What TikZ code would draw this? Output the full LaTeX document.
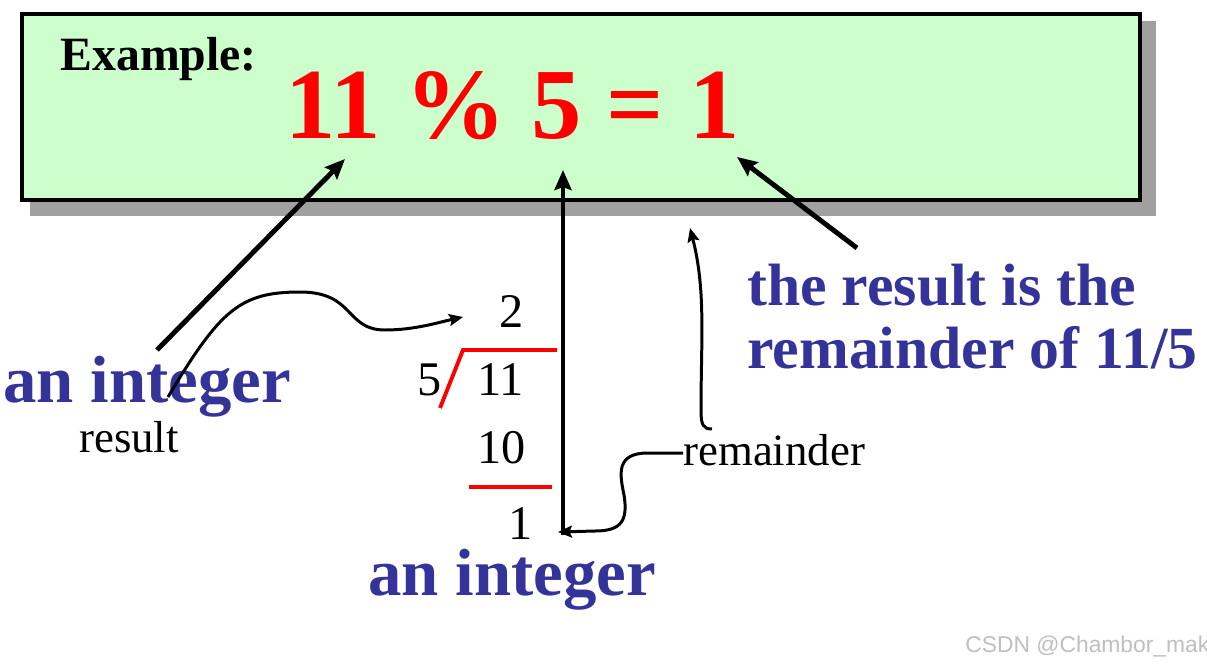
\documentclass[tikz,border=0pt]{standalone}
\usepackage{fontspec}
\setmainfont{Liberation Serif}
\newfontfamily\markfont{Liberation Sans}
\usetikzlibrary{arrows.meta}
\definecolor{exgreen}{HTML}{CCFFCC}
\definecolor{exblue}{HTML}{333399}
\definecolor{exred}{HTML}{FF0000}
\definecolor{exshade}{HTML}{A0A0A0}
\tikzset{
  exbox/.style={draw=black, fill=exgreen, line width=2pt, inner sep=0pt,
    minimum width=22.37cm, minimum height=3.73cm},
  headtxt/.style={anchor=base west, inner sep=0pt, font=\fontsize{27.2}{30}\selectfont\bfseries},
  eqtxt/.style={anchor=base west, inner sep=0pt, text=exred, font=\fontsize{57.3}{60}\selectfont\bfseries},
  bigblue/.style={anchor=base west, inner sep=0pt, text=exblue, font=\fontsize{38}{40}\selectfont\bfseries},
  noteblue/.style={anchor=base west, inner sep=0pt, text=exblue, align=left,
    font=\fontsize{34}{35.7}\selectfont\bfseries},
  plain/.style={anchor=base west, inner sep=0pt, font=\fontsize{25.5}{28}\selectfont},
  digit/.style={anchor=base west, inner sep=0pt, font=\fontsize{27.5}{30}\selectfont},
  pointer/.style={-{Stealth[length=4mm, width=3.4mm, inset=0.6mm]}, line width=2.8pt},
  curvy/.style={-{Stealth[length=2.8mm, width=2.4mm, inset=0.5mm]}, line width=1.7pt},
  divline/.style={draw=exred, line width=2.2pt},
}

\begin{document}
\begin{tikzpicture}[x=0.02cm, y=-0.02cm]
\useasboundingbox (0,0) rectangle (1207,663);
% green example box with its shadow
\fill[exshade] (30,21) rectangle (1156,216);
\node[exbox] (frame) at (581,107) {};
\node[headtxt] (head) at (60,70) {Example:};
\node[eqtxt] (eqn) at (285,138) {11 \% 5 = 1};

% labels
\node[bigblue] (intl) at (3,402) {an integer};
\node[bigblue] (intb) at (368,595) {an integer};
\node[noteblue] (note) at (747,368) {the result is the\\remainder of 11/5};
\node[plain] (res) at (79,452) {result};
\node[plain] (rem) at (683,465) {remainder};

% long division
\node[digit] (quo) at (499,327) {2};
\node[digit] (dvsr) at (417,395) {5};
\node[digit] (dvnd) at (477,395) {11};
\node[digit] (prod) at (477,463) {10};
\node[digit] (rmd) at (508,539) {1};
\draw[divline] (440,408) -- (463,350) -- (557,350);
\draw[divline] (469,487) -- (552,487);

% arrow ends
\coordinate (intFrom) at (157,350);
\coordinate (tipEleven) at (345,159);
\coordinate (vertFrom) at (563,535);
\coordinate (tipFive) at (563,170);
\coordinate (noteFrom) at (857,248);
\coordinate (tipOne) at (737,157);
\coordinate (resFrom) at (168,397);
\coordinate (quoTip) at (463,317);
\coordinate (remFrom) at (683,453);
\coordinate (rmdTip) at (558,532);
\coordinate (remUp) at (712,429);
\coordinate (frameTip) at (690,228);

\foreach \a/\b in {intFrom/tipEleven,vertFrom/tipFive,noteFrom/tipOne} \draw[pointer] (\a) -- (\b);
\draw[curvy] (resFrom) .. controls (220,310) and (240,292) .. (300,292)
  .. controls (355,292) and (345,330) .. (385,330)
  .. controls (415,330) and (440,322) .. (quoTip);
\draw[curvy] (remFrom) -- (648,453) .. controls (615,453) and (620,475) .. (624,495)
  .. controls (628,520) and (622,531) .. (595,531) -- (rmdTip);
\draw[curvy] (remUp) .. controls (703,429) and (701,425) .. (701,410)
  .. controls (701,340) and (706,290) .. (frameTip);

\node[anchor=base west, inner sep=0pt, text=black!25, font=\markfont\fontsize{13}{15}\selectfont] (mark) at (965,652) {CSDN @Chambor\_mak};
\end{tikzpicture}
\end{document}
